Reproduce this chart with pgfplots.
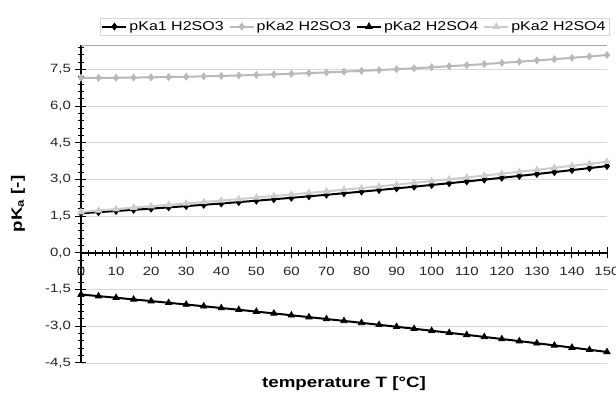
\documentclass[border=0pt]{standalone}
\usepackage{pgfplots}
\pgfplotsset{compat=1.18}
\usepackage{fontspec}
\setmainfont{Liberation Sans}[FakeStretch=1.25]
\definecolor{gA}{RGB}{185,185,185}
\definecolor{gB}{RGB}{205,205,205}
\definecolor{gridc}{RGB}{215,215,215}
\begin{document}
\begin{tikzpicture}
\useasboundingbox (-81pt,-38pt) rectangle (535pt,363pt);
\begin{axis}[
  at={(0pt,0pt)}, anchor=south west,
  scale only axis, width=526pt, height=318pt,
  xmin=0, xmax=150, ymin=-4.5, ymax=8.5,
  axis x line*=middle, axis y line*=left,
  hide obscured x ticks=false, hide obscured y ticks=false,
  xtick={0,10,...,150}, minor xtick={2,4,...,148},
  ytick={-4.5,-3,-1.5,0,1.5,3,4.5,6,7.5},
  minor ytick={-4.2,-3.9,-3.6,-3.3,-2.7,-2.4,-2.1,-1.8,-1.2,-0.9,-0.6,-0.3,0.3,0.6,0.9,1.2,1.8,2.1,2.4,2.7,3.3,3.6,3.9,4.2,4.8,5.1,5.4,5.7,6.3,6.6,6.9,7.2,7.8,8.1,8.4},
  tick align=center,
  major tick length=11pt, minor tick length=6pt,
  every tick/.style={black, line width=1pt},
  axis line style={black, line width=1.5pt},
  ymajorgrids, grid style={gridc, line width=0.8pt},
  /pgf/number format/assume math mode=true,
  tick label style={font=\fontsize{12}{14}\selectfont, text=black!85},
  yticklabel style={xshift=-1pt, /pgf/number format/.cd, fixed, fixed zerofill, precision=1, use comma},
  xticklabel style={yshift=-5pt, /pgf/number format/.cd, fixed, precision=0},
  xlabel={\textbf{temperature T [\textdegree C]}},
  ylabel={\textbf{pK\textsubscript{a} [-]}},
  xlabel style={at={(axis description cs:0.5,-0.066)}, anchor=center, font=\fontsize{15}{17}\selectfont},
  ylabel style={at={(axis description cs:-0.12,0.5)}, anchor=center, font=\fontsize{15}{17}\selectfont},
  legend columns=4,
  legend style={at={(0.52,1.058)}, anchor=center, draw=gridc,
    font=\fontsize{12.8}{14}\selectfont, inner sep=1.5pt,
    /tikz/every even column/.append style={column sep=3pt}},
  legend image code/.code={\draw[#1, line width=2pt] (0pt,0pt) -- (24pt,0pt); \draw[#1] plot coordinates {(12pt,0pt)};},
  clip=false,
]
\draw[gray!70, line width=0.9pt] (axis cs:0,8.5) -- (axis cs:150,8.5);
\addplot[black, line width=2pt, mark=diamond*, mark size=3.4pt, mark options={solid, line width=0.8pt}] table {
T p
0 1.620
5 1.666
10 1.713
15 1.761
20 1.810
25 1.861
30 1.913
35 1.967
40 2.021
45 2.077
50 2.135
55 2.193
60 2.253
65 2.314
70 2.376
75 2.440
80 2.505
85 2.571
90 2.639
95 2.708
100 2.778
105 2.849
110 2.922
115 2.996
120 3.072
125 3.148
130 3.226
135 3.305
140 3.386
145 3.467
150 3.551
};
\addlegendentry{pKa1 H2SO3}
\addplot[gA, line width=2pt, mark=diamond*, mark size=3.4pt, mark options={line width=0.8pt}] table {
T p
0 7.160
5 7.158
10 7.160
15 7.168
20 7.178
25 7.190
30 7.203
35 7.219
40 7.236
45 7.255
50 7.277
55 7.299
60 7.324
65 7.351
70 7.379
75 7.410
80 7.442
85 7.476
90 7.512
95 7.550
100 7.590
105 7.632
110 7.675
115 7.721
120 7.768
125 7.817
130 7.868
135 7.921
140 7.975
145 8.032
150 8.091
};
\addlegendentry{pKa2 H2SO3}
\addplot[black, line width=2pt, mark=triangle*, mark size=3.6pt, mark options={line width=0.8pt}] table {
T p
0 -1.700
5 -1.766
10 -1.833
15 -1.901
20 -1.969
25 -2.039
30 -2.109
35 -2.180
40 -2.252
45 -2.325
50 -2.399
55 -2.473
60 -2.549
65 -2.625
70 -2.702
75 -2.780
80 -2.859
85 -2.938
90 -3.019
95 -3.100
100 -3.182
105 -3.265
110 -3.349
115 -3.434
120 -3.519
125 -3.605
130 -3.693
135 -3.781
140 -3.869
145 -3.959
150 -4.050
};
\addlegendentry{pKa2 H2SO4}
\addplot[gB, line width=2pt, mark=triangle*, mark size=3.6pt, mark options={line width=0.8pt}] table {
T p
0 1.670
5 1.736
10 1.793
15 1.851
20 1.910
25 1.966
30 2.023
35 2.082
40 2.141
45 2.202
50 2.265
55 2.326
60 2.389
65 2.453
70 2.518
75 2.585
80 2.653
85 2.722
90 2.793
95 2.865
100 2.938
105 3.011
110 3.086
115 3.162
120 3.240
125 3.318
130 3.398
135 3.479
140 3.562
145 3.645
150 3.731
};
\addlegendentry{pKa2 H2SO4}
\end{axis}
\end{tikzpicture}
\end{document}
